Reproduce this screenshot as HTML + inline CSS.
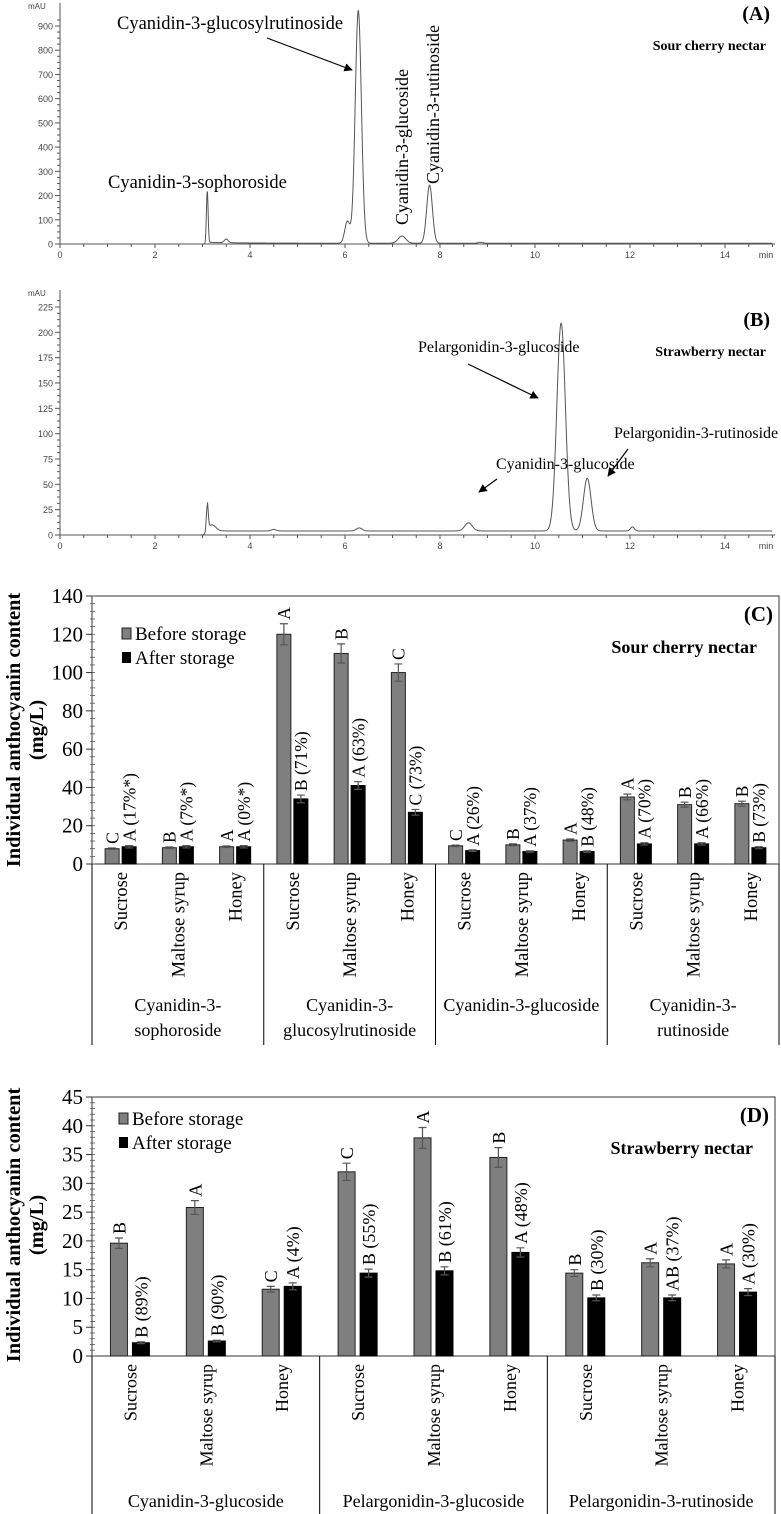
<!DOCTYPE html>
<html><head><meta charset="utf-8"><style>
html,body{margin:0;padding:0;background:#fff;}
svg{display:block;}
</style></head><body>
<svg id="fig" width="781" height="1514" viewBox="0 0 781 1514" xmlns="http://www.w3.org/2000/svg"></svg>
<script>
// ---------- Chromatogram data ----------
const peaksA_time = [3.1, 3.5, 6.05, 6.28, 7.2, 7.78, 8.85];
const peaksA_height = [215, 15, 90, 960, 30, 240, 4];
const peaksA_width = [0.018, 0.04, 0.055, 0.065, 0.08, 0.06, 0.05];
const ticksA_y = [0,100,200,300,400,500,600,700,800,900];
const peaksB_time = [3.1, 3.2, 4.5, 6.3, 8.6, 10.55, 11.1, 12.05];
const peaksB_height = [26, 6, 1.5, 3, 8, 205, 52, 4];
const peaksB_width = [0.02, 0.08, 0.05, 0.06, 0.08, 0.09, 0.08, 0.04];
const ticksB_y = [0,25,50,75,100,125,150,175,200,225];
const ticksX = [0,2,4,6,8,10,12,14];

// ---------- Bar chart C data ----------
const catsC = ["Sucrose","Maltose syrup","Honey","Sucrose","Maltose syrup","Honey","Sucrose","Maltose syrup","Honey","Sucrose","Maltose syrup","Honey"];
const groupsC = [["Cyanidin-3-","sophoroside"],["Cyanidin-3-","glucosylrutinoside"],["Cyanidin-3-glucoside"],["Cyanidin-3-","rutinoside"]];
const beforeC = [8, 8.5, 9, 120, 110, 100, 9.5, 10, 12.5, 35, 31, 31.5];
const beforeErrC = [0.4, 0.4, 0.4, 5.5, 5, 4.5, 0.4, 0.5, 0.6, 1.5, 1.3, 1.3];
const afterC = [9, 9, 9, 34, 41, 27, 7, 6.5, 6.5, 10.5, 10.5, 8.5];
const afterErrC = [0.6, 0.6, 0.6, 2, 2, 1.5, 0.4, 0.4, 0.4, 0.6, 0.6, 0.5];
const lettersBeforeC = ["C","B","A","A","B","C","C","B","A","A","B","B"];
const lettersAfterC = ["A (17%*)","A (7%*)","A (0%*)","B (71%)","A (63%)","C (73%)","A (26%)","A (37%)","B (48%)","A (70%)","A (66%)","B (73%)"];
const ticksC = [0,20,40,60,80,100,120,140];

// ---------- Bar chart D data ----------
const catsD = ["Sucrose","Maltose syrup","Honey","Sucrose","Maltose syrup","Honey","Sucrose","Maltose syrup","Honey"];
const groupsD = [["Cyanidin-3-glucoside"],["Pelargonidin-3-glucoside"],["Pelargonidin-3-rutinoside"]];
const beforeD = [19.6, 25.8, 11.6, 32, 37.9, 34.5, 14.4, 16.2, 16];
const beforeErrD = [0.9, 1.2, 0.5, 1.5, 1.8, 1.7, 0.6, 0.7, 0.7];
const afterD = [2.3, 2.6, 12.1, 14.4, 14.8, 18, 10.1, 10.1, 11.1];
const afterErrD = [0.15, 0.15, 0.6, 0.7, 0.7, 0.8, 0.5, 0.5, 0.6];
const lettersBeforeD = ["B","A","C","C","A","B","B","A","A"];
const lettersAfterD = ["B (89%)","B (90%)","A (4%)","B (55%)","B (61%)","A (48%)","B (30%)","AB (37%)","A (30%)"];
const ticksD = [0,5,10,15,20,25,30,35,40,45];

const NS = "http://www.w3.org/2000/svg";
const svg = document.getElementById('fig');
function el(tag, attrs, parent, text){
  const e = document.createElementNS(NS, tag);
  for (const k in attrs) e.setAttribute(k, attrs[k]);
  if (text !== undefined) e.textContent = text;
  (parent || svg).appendChild(e);
  return e;
}
const SERIF = "'Liberation Serif', serif";
const SANS = "'Liberation Sans', sans-serif";

function chrom(opts){
  const g = el('g', {});
  
  
  const x = t => 60 + t * 47.5;
  const y = v => opts.y0 - v * opts.scale;
  const ax = el('path', {d:`M60 ${opts.yTop} V${opts.y0} H775`, stroke:'#555', 'stroke-width':1, fill:'none'}, g);
  
  
  for (let t = 0; t <= 15; t += 0.5) {
    const len = (Math.abs(t - Math.round(t/2)*2) < 1e-6) ? 4 : 3;
    el('line', {x1:x(t), x2:x(t), y1:opts.y0, y2:opts.y0+len, stroke:'#555','stroke-width':1}, g);
  }
  ticksX.forEach(t => {
    const tl = el('text', {x:x(t), y:opts.y0+14, 'font-family':SANS, 'font-size':9, fill:'#444', 'text-anchor':'middle'}, g, String(t));
    
    
  });
  const mn = el('text', {x:766, y:opts.y0+14, 'font-family':SANS, 'font-size':9, fill:'#444', 'text-anchor':'middle'}, g, 'min');
  
  
  const step = opts.ticks[1] - opts.ticks[0];
  for (let v = 0; v <= opts.ticks[opts.ticks.length-1] + step*0.4; v += step/4) {
    el('line', {x1:60, x2:(Math.abs(v/step - Math.round(v/step))<1e-6)?55:57, y1:y(v), y2:y(v), stroke:'#555','stroke-width':1}, g);
  }
  opts.ticks.forEach(v => {
    const tl = el('text', {x:53, y:y(v)+3.5, 'font-family':SANS, 'font-size':9, fill:'#444', 'text-anchor':'end'}, g, String(v));
    
    
  });
  const mau = el('text', {x:28, y:opts.yTop+6, 'font-family':SANS, 'font-size':8, fill:'#444'}, g, 'mAU');
  
  
  let d = '';
  for (let t = 0; t <= 15; t += 0.005) {
    let v = opts.baseline(t);
    for (let i = 0; i < opts.pt.length; i++) {
      const z = (t - opts.pt[i]) / opts.pw[i];
      v += opts.ph[i] * Math.exp(-0.5 * z * z);
    }
    d += (d ? 'L' : 'M') + x(t).toFixed(2) + ' ' + y(v).toFixed(2);
  }
  const tr = el('path', {d, stroke:'#555', 'stroke-width':1, fill:'none'}, g);
  
  
  return {g, x, y};
}

const A = chrom({name:'chromatogram-a', y0:244, yTop:3, scale:218/900, ticks:ticksA_y,
  pt:peaksA_time, ph:peaksA_height, pw:peaksA_width,
  baseline:t => t < 3.1 ? 0 : 4*Math.exp(-(t-3.1)/0.8) + 3});
const B = chrom({name:'chromatogram-b', y0:535, yTop:290, scale:228/225, ticks:ticksB_y,
  pt:peaksB_time, ph:peaksB_height, pw:peaksB_width,
  baseline:t => t < 3.1 ? 0 : 4});

const defs = el('defs', {});
const mk = el('marker', {id:'arr', viewBox:'0 0 10 10', refX:9, refY:5, markerWidth:7, markerHeight:7, orient:'auto'}, defs);
el('path', {d:'M0 0 L10 5 L0 10 z', fill:'#000'}, mk);

function txt(x, y, s, size, name, extra){
  const a = Object.assign({x, y, 'font-family':SERIF, 'font-size':size, fill:'#000'}, extra || {});
  const t = el('text', a, svg, s);
  
  
  return t;
}
function arrow(x1,y1,x2,y2,name){
  const l = el('line', {x1,y1,x2,y2, stroke:'#000','stroke-width':1.2,'marker-end':'url(#arr)'});
  
  
}

txt(117, 29, 'Cyanidin-3-glucosylrutinoside', 18.5, 'peak-label-glucosylrutinoside');
arrow(267, 38, 352, 70, 'arrow-glucosylrutinoside');
txt(108, 188, 'Cyanidin-3-sophoroside', 18.5, 'peak-label-sophoroside');
txt(0, 0, 'Cyanidin-3-glucoside', 18, 'peak-label-glucoside', {transform:'translate(408,225) rotate(-90)'});
txt(0, 0, 'Cyanidin-3-rutinoside', 18, 'peak-label-rutinoside', {transform:'translate(439,184) rotate(-90)'});
txt(770, 20, '(A)', 20, 'panel-label-a', {'font-weight':'bold','text-anchor':'end'});
txt(766, 50, 'Sour cherry nectar', 14, 'panel-title-a', {'font-weight':'bold','text-anchor':'end'});

txt(770, 326, '(B)', 20, 'panel-label-b', {'font-weight':'bold','text-anchor':'end'});
txt(766, 356, 'Strawberry nectar', 14, 'panel-title-b', {'font-weight':'bold','text-anchor':'end'});
txt(418, 352, 'Pelargonidin-3-glucoside', 16, 'peak-label-pg-glucoside');
arrow(468, 364, 538, 398, 'arrow-pg-glucoside');
txt(496, 469, 'Cyanidin-3-glucoside', 16, 'peak-label-cy-glucoside-b');
arrow(497, 479, 479, 492, 'arrow-cy-glucoside-b');
txt(614, 438, 'Pelargonidin-3-rutinoside', 16, 'peak-label-pg-rutinoside');
arrow(628, 449, 608, 476, 'arrow-pg-rutinoside');

function bars(o){
  const g = el('g', {});
  
  
  const n = o.cats.length;
  const cw = (o.right - o.left) / n;
  const y = v => o.y0 - v * (o.y0 - o.yTop) / o.max;
  const cx = i => o.left + cw * (i + 0.5);
  const fr = el('rect', {x:o.left, y:o.yTop, width:o.right-o.left, height:o.y0-o.yTop, fill:'none', stroke:'#333','stroke-width':1}, g);
  
  
  const st = o.ticks[1]-o.ticks[0];
  for (let v = 0; v <= o.max + 1e-6; v += st/5) {
    el('line', {x1:o.left-2, x2:o.left+3, y1:y(v), y2:y(v), stroke:'#555','stroke-width':0.8}, g);
  }
  o.ticks.forEach(v => {
    el('line', {x1:o.left-6, x2:o.left, y1:y(v), y2:y(v), stroke:'#333','stroke-width':1}, g);
    const tl = el('text', {x:o.left-9, y:y(v)+7, 'font-family':SERIF, 'font-size':21, 'text-anchor':'end', fill:'#000'}, g, String(v));
    
    
  });
  const yt = el('text', {transform:`translate(${o.titleX},${o.titleY}) rotate(-90)`, 'font-family':SERIF, 'font-size':20.5, 'font-weight':'bold', 'text-anchor':'middle'}, g);
  
  
  el('tspan', {x:0, y:0}, yt, 'Individual anthocyanin content');
  el('tspan', {x:0, y:23}, yt, '(mg/L)');
  for (let i = 0; i < n; i++) {
    const c = cx(i);
    const gb = el('rect', {x:c-o.gap-o.bw, y:y(o.before[i]), width:o.bw, height:o.y0-y(o.before[i]), fill:'#7f7f7f', stroke:'#222','stroke-width':1}, g);
    
    
    const bb = el('rect', {x:c+o.gap, y:y(o.after[i]), width:o.bw, height:o.y0-y(o.after[i]), fill:'#000', stroke:'#000','stroke-width':1}, g);
    
    
    const gx = c-o.gap-o.bw/2, bx = c+o.gap+o.bw/2;
    [[gx, o.before[i], o.beforeErr[i]], [bx, o.after[i], o.afterErr[i]]].forEach(([ex, v, e]) => {
      const eb = el('path', {d:`M${ex-4} ${y(v+e)} H${ex+4} M${ex} ${y(v+e)} V${y(v-e)} M${ex-4} ${y(v-e)} H${ex+4}`, stroke:'#555','stroke-width':1.2, fill:'none'}, g);
      
      
    });
    const l1 = el('text', {transform:`translate(${gx+o.fs*0.36},${y(o.before[i]+o.beforeErr[i])-4}) rotate(-90)`, 'font-family':SERIF, 'font-size':o.fs}, g, o.lb[i]);
    
    
    const l2 = el('text', {transform:`translate(${bx+o.fs*0.36},${y(o.after[i]+o.afterErr[i])-4}) rotate(-90)`, 'font-family':SERIF, 'font-size':o.fs}, g, o.la[i]);
    
    
    const cl = el('text', {transform:`translate(${c+6.5},${o.y0+8}) rotate(-90)`, 'font-family':SERIF, 'font-size':o.cfs, 'text-anchor':'end'}, g, o.cats[i]);
    
    
  }
  const per = n / o.groups.length;
  for (let k = 0; k <= o.groups.length; k++) {
    const sx = o.left + cw * per * k;
    el('line', {x1:sx, x2:sx, y1:o.y0, y2:o.bottom, stroke:'#000','stroke-width':1}, g);
  }
  o.groups.forEach((lines, k) => {
    const gx = o.left + cw * per * (k + 0.5);
    lines.forEach((s, j) => {
      const t = el('text', {x:gx, y:o.groupY + j*25, 'font-family':SERIF, 'font-size':o.gfs, 'text-anchor':'middle'}, g, s);
      
      
    });
  });
  const lg = el('g', {}, g);
  
  
  el('rect', {x:o.legX, y:o.legY-12, width:9, height:11, fill:'#7f7f7f', stroke:'#222'}, lg);
  el('rect', {x:o.legX, y:o.legY+12, width:9, height:11, fill:'#000'}, lg);
  const e1 = el('text', {x:o.legX+13, y:o.legY, 'font-family':SERIF, 'font-size':19}, lg, 'Before storage');
  
  
  const e2 = el('text', {x:o.legX+13, y:o.legY+24, 'font-family':SERIF, 'font-size':19}, lg, 'After storage');
  
  
  const pl = el('text', {x:o.right-6, y:o.yTop+25, 'font-family':SERIF, 'font-size':21, 'font-weight':'bold', 'text-anchor':'end'}, g, o.panel);
  
  
  const pt = el('text', {x:o.right-22, y:o.yTop+57, 'font-family':SERIF, 'font-size':18, 'font-weight':'bold', 'text-anchor':'end'}, g, o.title);
  
  
}

bars({name:'bar-chart-c', left:92, right:779, y0:864, yTop:596, max:140, bottom:1045,
  cats:catsC, groups:groupsC, before:beforeC, beforeErr:beforeErrC, after:afterC, afterErr:afterErrC,
  lb:lettersBeforeC, la:lettersAfterC, ticks:ticksC, bw:14, gap:1.5, fs:17.5, cfs:18.5, gfs:18, groupY:1011,
  titleX:20, titleY:730, legX:122, legY:640, panel:'(C)', title:'Sour cherry nectar'});
bars({name:'bar-chart-d', left:92, right:775, y0:1356, yTop:1097, max:45, bottom:1514,
  cats:catsD, groups:groupsD, before:beforeD, beforeErr:beforeErrD, after:afterD, afterErr:afterErrD,
  lb:lettersBeforeD, la:lettersAfterD, ticks:ticksD, bw:17, gap:2.5, fs:18, cfs:18, gfs:18, groupY:1507,
  titleX:20, titleY:1225, legX:119, legY:1125, panel:'(D)', title:'Strawberry nectar'});
</script>
</body></html>
